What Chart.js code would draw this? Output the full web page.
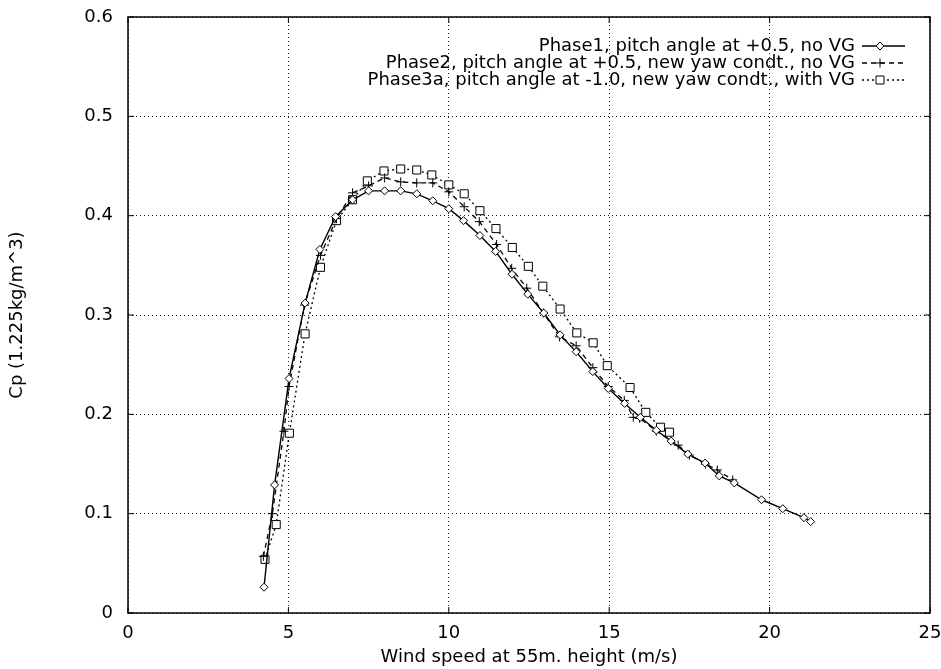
<!DOCTYPE html>
<html>
<head>
<meta charset="utf-8">
<script src="https://cdn.jsdelivr.net/npm/chart.js@4"></script>
<style>
  html, body { margin: 0; padding: 0; background: #fff; }
  canvas { display: block; }
</style>
</head>
<body>
<canvas id="cp-graph" width="941" height="669"></canvas>
<script>
const CTX = document.getElementById('cp-graph');

// wind speed (m/s) and Cp
const phase1Speed = [4.24, 4.57, 5.02, 5.52, 5.98, 6.47, 7.0, 7.5, 8.0, 8.5, 9.0, 9.5, 10.0, 10.46, 10.97, 11.46, 11.97, 12.46, 12.96, 13.47, 13.97, 14.49, 14.97, 15.48, 15.97, 16.47, 16.93, 17.45, 17.99, 18.43, 18.9, 19.75, 20.41, 21.07, 21.28];
const phase1Cp = [0.026, 0.129, 0.236, 0.312, 0.366, 0.399, 0.416, 0.425, 0.425, 0.425, 0.422, 0.415, 0.407, 0.395, 0.380, 0.364, 0.341, 0.321, 0.302, 0.280, 0.263, 0.243, 0.226, 0.211, 0.197, 0.184, 0.173, 0.160, 0.151, 0.138, 0.131, 0.114, 0.105, 0.096, 0.092];

const phase2Speed = [4.22, 4.5, 4.86, 5.02, 5.5, 6.0, 6.5, 7.0, 7.5, 8.0, 8.5, 9.0, 9.5, 10.0, 10.48, 10.95, 11.49, 11.96, 12.43, 12.95, 13.45, 13.97, 14.49, 14.97, 15.47, 15.75, 15.95, 16.47, 17.15, 17.5, 18.0, 18.37, 18.85];
const phase2Cp = [0.057, 0.10, 0.183, 0.228, 0.31, 0.36, 0.397, 0.423, 0.430, 0.438, 0.434, 0.433, 0.433, 0.424, 0.409, 0.394, 0.371, 0.347, 0.327, 0.302, 0.278, 0.269, 0.247, 0.228, 0.214, 0.197, 0.196, 0.183, 0.169, 0.159, 0.150, 0.144, 0.134];

const phase3Speed = [4.27, 4.62, 5.03, 5.52, 6.0, 6.5, 7.0, 7.46, 7.98, 8.5, 9.0, 9.47, 10.0, 10.48, 10.97, 11.47, 11.98, 12.48, 12.93, 13.47, 13.99, 14.5, 14.94, 15.65, 16.14, 16.6, 16.88];
const phase3Cp = [0.054, 0.089, 0.181, 0.281, 0.348, 0.395, 0.416, 0.435, 0.445, 0.447, 0.446, 0.441, 0.431, 0.422, 0.405, 0.387, 0.368, 0.349, 0.329, 0.306, 0.282, 0.272, 0.249, 0.227, 0.202, 0.187, 0.182];

const labels = [
  'Phase1, pitch angle at +0.5, no VG',
  'Phase2, pitch angle at +0.5, new yaw condt., no VG',
  'Phase3a, pitch angle at -1.0, new yaw condt., with VG'
];

const FONT = { family: '"DejaVu Sans", sans-serif', size: 18 };

function pts(xs, ys) {
  return xs.map((x, i) => ({ x: x, y: ys[i] }));
}

// draws a marker by hand (used for the legend samples)
function marker(ctx, style, x, y) {
  ctx.beginPath();
  if (style === 'rectRot') {
    ctx.moveTo(x, y - 4); ctx.lineTo(x + 4, y); ctx.lineTo(x, y + 4); ctx.lineTo(x - 4, y); ctx.closePath();
    ctx.fillStyle = '#fff'; ctx.fill(); ctx.stroke();
  } else if (style === 'cross') {
    ctx.moveTo(x - 4.5, y); ctx.lineTo(x + 4.5, y); ctx.moveTo(x, y - 4.5); ctx.lineTo(x, y + 4.5);
    ctx.stroke();
  } else {
    ctx.rect(x - 4, y - 4, 8, 8);
    ctx.fillStyle = '#fff'; ctx.fill(); ctx.stroke();
  }
}

const frame = {
  id: 'frame',
  afterDraw(chart) {
    const { ctx, chartArea: a, scales } = chart;
    ctx.save();
    ctx.strokeStyle = '#000';
    ctx.lineWidth = 1.5;
    ctx.setLineDash([]);
    ctx.strokeRect(a.left, a.top, a.right - a.left, a.bottom - a.top);
    // inward ticks, mirrored
    ctx.lineWidth = 1;
    ctx.beginPath();
    scales.x.ticks.forEach(t => {
      const px = scales.x.getPixelForValue(t.value);
      ctx.moveTo(px, a.bottom); ctx.lineTo(px, a.bottom - 6);
      ctx.moveTo(px, a.top); ctx.lineTo(px, a.top + 6);
    });
    scales.y.ticks.forEach(t => {
      const py = scales.y.getPixelForValue(t.value);
      ctx.moveTo(a.left, py); ctx.lineTo(a.left + 6, py);
      ctx.moveTo(a.right, py); ctx.lineTo(a.right - 6, py);
    });
    ctx.stroke();

    // legend, gnuplot style
    ctx.font = FONT.size + 'px ' + FONT.family;
    ctx.textAlign = 'right';
    ctx.textBaseline = 'middle';
    chart.data.datasets.forEach((ds, i) => {
      const y = 46 + i * 17;
      ctx.fillStyle = '#000';
      ctx.fillText(ds.label, 855, y);
      ctx.lineWidth = ds.borderWidth;
      ctx.setLineDash(ds.borderDash || []);
      ctx.beginPath();
      ctx.moveTo(862, y); ctx.lineTo(905, y);
      ctx.stroke();
      ctx.setLineDash([]);
      ctx.lineWidth = 1;
      marker(ctx, ds.pointStyle, 880, y);
    });
    ctx.restore();
  }
};

new Chart(CTX, {
  type: 'scatter',
  data: {
    datasets: [{
      label: labels[0],
      data: pts(phase1Speed, phase1Cp),
      showLine: true,
      borderColor: '#000',
      borderWidth: 1.4,
      pointStyle: 'rectRot',
      pointRadius: 4,
      pointBorderWidth: 1,
      pointBackgroundColor: '#fff',
      pointBorderColor: '#000'
    }, {
      label: labels[1],
      data: pts(phase2Speed, phase2Cp),
      showLine: true,
      borderColor: '#000',
      borderWidth: 1.3,
      borderDash: [5, 4],
      pointStyle: 'cross',
      pointRadius: 4.5,
      pointBorderWidth: 1,
      pointBorderColor: '#000'
    }, {
      label: labels[2],
      data: pts(phase3Speed, phase3Cp),
      showLine: true,
      borderColor: '#000',
      borderWidth: 1.3,
      borderDash: [2, 3],
      pointStyle: 'rect',
      pointRadius: 5.7,
      pointBorderWidth: 1,
      pointBackgroundColor: '#fff',
      pointBorderColor: '#000'
    }]
  },
  options: {
    responsive: false,
    animation: false,
    layout: { padding: { left: 0, right: 11, top: 17, bottom: 0 } },
    plugins: {
      legend: { display: false },
      tooltip: { enabled: false }
    },
    scales: {
      x: {
        type: 'linear',
        min: 0,
        max: 25,
        afterFit: s => { s.height = 56; s.paddingLeft = 0; s.paddingRight = 0; },
        ticks: { stepSize: 5, color: '#000', font: FONT, padding: 10, maxRotation: 0 },
        grid: { color: '#222', lineWidth: 1, drawTicks: false },
        border: { display: false, dash: [1, 3] },
        title: {
          display: true,
          text: 'Wind speed at 55m. height (m/s)',
          color: '#000',
          font: FONT,
          padding: { top: 0, bottom: 1 }
        }
      },
      y: {
        type: 'linear',
        min: 0,
        max: 0.6,
        afterFit: s => { s.width = 128; s.paddingTop = 0; s.paddingBottom = 0; },
        ticks: {
          stepSize: 0.1,
          color: '#000',
          font: FONT,
          padding: 15,
          callback: v => v === 0 ? '0' : v.toFixed(1)
        },
        grid: { color: '#222', lineWidth: 1, drawTicks: false },
        border: { display: false, dash: [1, 3] },
        title: {
          display: true,
          text: 'Cp (1.225kg/m^3)',
          color: '#000',
          font: FONT,
          padding: { top: 7, bottom: 0 }
        }
      }
    }
  },
  plugins: [frame]
});
</script>
</body>
</html>
